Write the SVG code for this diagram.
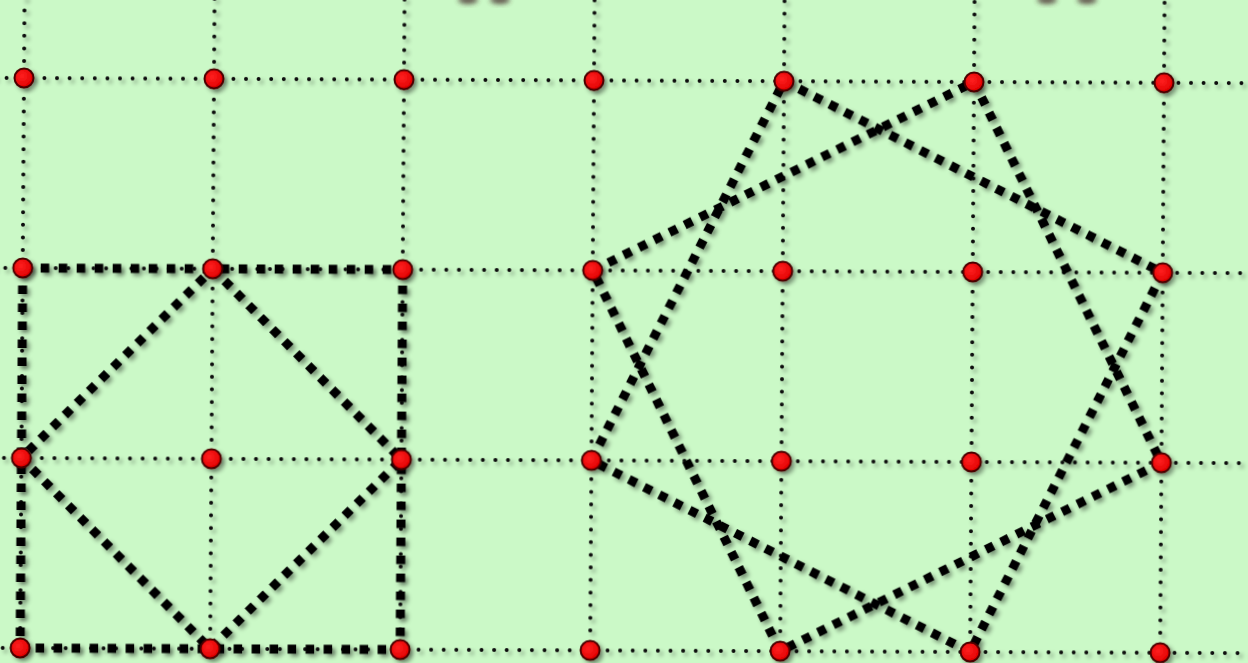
<svg xmlns="http://www.w3.org/2000/svg" width="1248" height="663" viewBox="0 0 1248 663">
<defs>
<filter id="sh" x="-10%" y="-10%" width="120%" height="120%">
<feDropShadow dx="3" dy="3" stdDeviation="2.2" flood-color="#000" flood-opacity="0.4"/>
</filter>
<filter id="blur" x="-50%" y="-50%" width="200%" height="200%"><feGaussianBlur stdDeviation="2.5"/></filter>
<radialGradient id="rg" cx="0.4" cy="0.4" r="0.6">
<stop offset="0" stop-color="#ff2020"/><stop offset="1" stop-color="#e00000"/>
</radialGradient>
</defs>
<style>
.grid line{stroke:#111;stroke-width:4;stroke-dasharray:0 12.6;stroke-linecap:round;fill:none}
.edge{stroke:#000;stroke-width:9;stroke-dasharray:8.5 8.5;fill:none}
.sq{stroke-dasharray:8.5 9.5}
.pt circle{fill:url(#rg);stroke:#4a0000;stroke-width:2}
</style>
<rect width="1248" height="663" fill="#cbf9c7"/>
<g fill="#4a3030" filter="url(#blur)" opacity="0.8">
<ellipse cx="468" cy="0" rx="10" ry="4"/>
<ellipse cx="500" cy="0" rx="10" ry="4"/>
<ellipse cx="1047" cy="0" rx="10" ry="4"/>
<ellipse cx="1087" cy="0" rx="10" ry="4"/>
</g>
<g transform="matrix(1 0.0042 -0.0068 1 24 78)">
<g class="grid" filter="url(#sh)">
<line x1="0" y1="-80" x2="0" y2="600"/>
<line x1="190" y1="-80" x2="190" y2="600"/>
<line x1="380" y1="-80" x2="380" y2="600"/>
<line x1="570" y1="-80" x2="570" y2="600"/>
<line x1="760" y1="-80" x2="760" y2="600"/>
<line x1="950" y1="-80" x2="950" y2="600"/>
<line x1="1140" y1="-80" x2="1140" y2="600"/>
<line x1="-30" y1="0" x2="1240" y2="0"/>
<line x1="-30" y1="190" x2="1240" y2="190"/>
<line x1="-30" y1="380" x2="1240" y2="380"/>
<line x1="-30" y1="570" x2="1240" y2="570"/>
</g>
<g id="connectors" filter="url(#sh)">
<polygon class="edge sq" points="0,190 380,190 380,570 0,570"/>
<polygon class="edge" points="190,190 380,380 190,570 0,380"/>
<polygon class="edge" points="760,0 1140,190 950,570 570,380"/>
<polygon class="edge" points="950,0 1140,380 760,570 570,190"/>
</g>
<g class="pt" filter="url(#sh)">
<g id="n00"><circle cx="0" cy="0" r="9.5"/></g>
<g id="n10"><circle cx="190" cy="0" r="9.5"/></g>
<g id="n20"><circle cx="380" cy="0" r="9.5"/></g>
<g id="n30"><circle cx="570" cy="0" r="9.5"/></g>
<g id="n40"><circle cx="760" cy="0" r="9.5"/></g>
<g id="n50"><circle cx="950" cy="0" r="9.5"/></g>
<g id="n60"><circle cx="1140" cy="0" r="9.5"/></g>
<g id="n01"><circle cx="0" cy="190" r="9.5"/></g>
<g id="n11"><circle cx="190" cy="190" r="9.5"/></g>
<g id="n21"><circle cx="380" cy="190" r="9.5"/></g>
<g id="n31"><circle cx="570" cy="190" r="9.5"/></g>
<g id="n41"><circle cx="760" cy="190" r="9.5"/></g>
<g id="n51"><circle cx="950" cy="190" r="9.5"/></g>
<g id="n61"><circle cx="1140" cy="190" r="9.5"/></g>
<g id="n02"><circle cx="0" cy="380" r="9.5"/></g>
<g id="n12"><circle cx="190" cy="380" r="9.5"/></g>
<g id="n22"><circle cx="380" cy="380" r="9.5"/></g>
<g id="n32"><circle cx="570" cy="380" r="9.5"/></g>
<g id="n42"><circle cx="760" cy="380" r="9.5"/></g>
<g id="n52"><circle cx="950" cy="380" r="9.5"/></g>
<g id="n62"><circle cx="1140" cy="380" r="9.5"/></g>
<g id="n03"><circle cx="0" cy="570" r="9.5"/></g>
<g id="n13"><circle cx="190" cy="570" r="9.5"/></g>
<g id="n23"><circle cx="380" cy="570" r="9.5"/></g>
<g id="n33"><circle cx="570" cy="570" r="9.5"/></g>
<g id="n43"><circle cx="760" cy="570" r="9.5"/></g>
<g id="n53"><circle cx="950" cy="570" r="9.5"/></g>
<g id="n63"><circle cx="1140" cy="570" r="9.5"/></g>
</g>
</g>
</svg>
